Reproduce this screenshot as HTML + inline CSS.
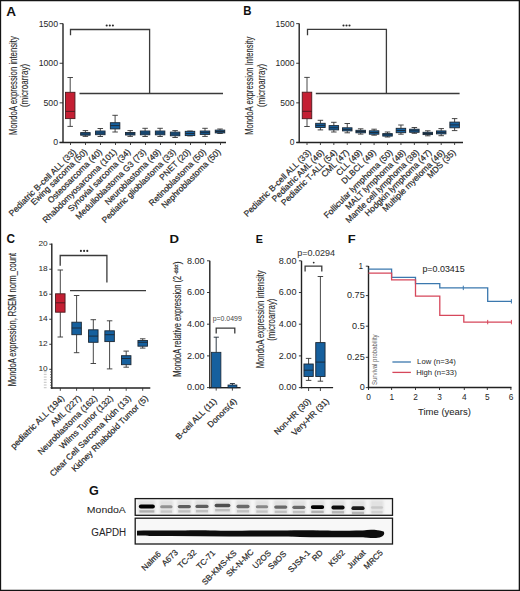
<!DOCTYPE html>
<html><head><meta charset="utf-8"><style>
html,body{margin:0;padding:0;background:#fff;}
svg{display:block;font-family:"Liberation Sans", sans-serif;}
</style></head><body>
<svg width="520" height="591" viewBox="0 0 520 591" font-family='"Liberation Sans", sans-serif'>
<rect x="0" y="0" width="520" height="591" fill="#fff"/>
<text x="6.39" y="16.25" font-size="12.00" text-anchor="start" font-weight="bold" fill="#111" textLength="9.80" lengthAdjust="spacingAndGlyphs">A</text>
<line x1="63.00" y1="23.60" x2="63.00" y2="143.10" stroke="#222" stroke-width="1.4"/>
<line x1="59.60" y1="142.45" x2="226.00" y2="142.45" stroke="#222" stroke-width="1.4"/>
<line x1="59.60" y1="23.65" x2="63.00" y2="23.65" stroke="#222" stroke-width="0.9"/>
<line x1="59.60" y1="63.25" x2="63.00" y2="63.25" stroke="#222" stroke-width="0.9"/>
<line x1="59.60" y1="102.85" x2="63.00" y2="102.85" stroke="#222" stroke-width="0.9"/>
<line x1="59.60" y1="142.45" x2="63.00" y2="142.45" stroke="#222" stroke-width="0.9"/>
<text x="58.08" y="26.61" font-size="8.60" text-anchor="end" font-weight="normal" fill="#262626" textLength="19.42" lengthAdjust="spacingAndGlyphs">1500</text>
<text x="58.08" y="66.21" font-size="8.60" text-anchor="end" font-weight="normal" fill="#262626" textLength="19.42" lengthAdjust="spacingAndGlyphs">1000</text>
<text x="58.08" y="105.81" font-size="8.60" text-anchor="end" font-weight="normal" fill="#262626" textLength="14.56" lengthAdjust="spacingAndGlyphs">500</text>
<text x="58.08" y="145.41" font-size="8.60" text-anchor="end" font-weight="normal" fill="#262626" textLength="4.85" lengthAdjust="spacingAndGlyphs">0</text>
<text x="17.36" y="85.55" font-size="10.30" text-anchor="middle" font-weight="normal" fill="#262626" stroke="#262626" stroke-width="0.1" textLength="98.78" lengthAdjust="spacingAndGlyphs" transform="rotate(-90.0 17.36 85.55)">MondoA expression intensity</text>
<text x="28.46" y="85.45" font-size="10.30" text-anchor="middle" font-weight="normal" fill="#262626" stroke="#262626" stroke-width="0.1" textLength="43.18" lengthAdjust="spacingAndGlyphs" transform="rotate(-90.0 28.46 85.45)">(microarray)</text>
<line x1="70.20" y1="77.50" x2="70.20" y2="92.30" stroke="#333" stroke-width="0.9"/>
<line x1="70.20" y1="118.60" x2="70.20" y2="126.40" stroke="#333" stroke-width="0.9"/>
<line x1="67.45" y1="77.50" x2="72.95" y2="77.50" stroke="#333" stroke-width="0.9"/>
<line x1="67.45" y1="126.40" x2="72.95" y2="126.40" stroke="#333" stroke-width="0.9"/>
<rect x="65.45" y="92.30" width="9.50" height="26.30" fill="#c41f33" stroke="#4a1a1e" stroke-width="0.9"/>
<line x1="65.45" y1="111.40" x2="74.95" y2="111.40" stroke="#4a1a1e" stroke-width="0.9"/>
<line x1="85.40" y1="130.60" x2="85.40" y2="132.60" stroke="#333" stroke-width="0.9"/>
<line x1="85.40" y1="135.20" x2="85.40" y2="136.40" stroke="#333" stroke-width="0.9"/>
<line x1="82.65" y1="130.60" x2="88.15" y2="130.60" stroke="#333" stroke-width="0.9"/>
<line x1="82.65" y1="136.40" x2="88.15" y2="136.40" stroke="#333" stroke-width="0.9"/>
<rect x="80.65" y="132.60" width="9.50" height="2.60" fill="#16609e" stroke="#1b2733" stroke-width="0.9"/>
<line x1="80.65" y1="134.00" x2="90.15" y2="134.00" stroke="#1b2733" stroke-width="0.9"/>
<line x1="100.30" y1="128.50" x2="100.30" y2="131.00" stroke="#333" stroke-width="0.9"/>
<line x1="100.30" y1="134.70" x2="100.30" y2="136.50" stroke="#333" stroke-width="0.9"/>
<line x1="97.55" y1="128.50" x2="103.05" y2="128.50" stroke="#333" stroke-width="0.9"/>
<line x1="97.55" y1="136.50" x2="103.05" y2="136.50" stroke="#333" stroke-width="0.9"/>
<rect x="95.55" y="131.00" width="9.50" height="3.70" fill="#16609e" stroke="#1b2733" stroke-width="0.9"/>
<line x1="95.55" y1="133.00" x2="105.05" y2="133.00" stroke="#1b2733" stroke-width="0.9"/>
<line x1="115.10" y1="115.30" x2="115.10" y2="122.70" stroke="#333" stroke-width="0.9"/>
<line x1="115.10" y1="128.90" x2="115.10" y2="132.00" stroke="#333" stroke-width="0.9"/>
<line x1="112.35" y1="115.30" x2="117.85" y2="115.30" stroke="#333" stroke-width="0.9"/>
<line x1="112.35" y1="132.00" x2="117.85" y2="132.00" stroke="#333" stroke-width="0.9"/>
<rect x="110.35" y="122.70" width="9.50" height="6.20" fill="#16609e" stroke="#1b2733" stroke-width="0.9"/>
<line x1="110.35" y1="125.60" x2="119.85" y2="125.60" stroke="#1b2733" stroke-width="0.9"/>
<line x1="130.20" y1="130.60" x2="130.20" y2="132.50" stroke="#333" stroke-width="0.9"/>
<line x1="130.20" y1="135.00" x2="130.20" y2="136.40" stroke="#333" stroke-width="0.9"/>
<line x1="127.45" y1="130.60" x2="132.95" y2="130.60" stroke="#333" stroke-width="0.9"/>
<line x1="127.45" y1="136.40" x2="132.95" y2="136.40" stroke="#333" stroke-width="0.9"/>
<rect x="125.45" y="132.50" width="9.50" height="2.50" fill="#16609e" stroke="#1b2733" stroke-width="0.9"/>
<line x1="125.45" y1="133.80" x2="134.95" y2="133.80" stroke="#1b2733" stroke-width="0.9"/>
<line x1="145.10" y1="128.30" x2="145.10" y2="131.00" stroke="#333" stroke-width="0.9"/>
<line x1="145.10" y1="134.80" x2="145.10" y2="136.50" stroke="#333" stroke-width="0.9"/>
<line x1="142.35" y1="128.30" x2="147.85" y2="128.30" stroke="#333" stroke-width="0.9"/>
<line x1="142.35" y1="136.50" x2="147.85" y2="136.50" stroke="#333" stroke-width="0.9"/>
<rect x="140.35" y="131.00" width="9.50" height="3.80" fill="#16609e" stroke="#1b2733" stroke-width="0.9"/>
<line x1="140.35" y1="133.00" x2="149.85" y2="133.00" stroke="#1b2733" stroke-width="0.9"/>
<line x1="160.10" y1="128.30" x2="160.10" y2="131.00" stroke="#333" stroke-width="0.9"/>
<line x1="160.10" y1="134.80" x2="160.10" y2="136.50" stroke="#333" stroke-width="0.9"/>
<line x1="157.35" y1="128.30" x2="162.85" y2="128.30" stroke="#333" stroke-width="0.9"/>
<line x1="157.35" y1="136.50" x2="162.85" y2="136.50" stroke="#333" stroke-width="0.9"/>
<rect x="155.35" y="131.00" width="9.50" height="3.80" fill="#16609e" stroke="#1b2733" stroke-width="0.9"/>
<line x1="155.35" y1="133.00" x2="164.85" y2="133.00" stroke="#1b2733" stroke-width="0.9"/>
<line x1="175.10" y1="130.60" x2="175.10" y2="132.10" stroke="#333" stroke-width="0.9"/>
<line x1="175.10" y1="135.80" x2="175.10" y2="137.50" stroke="#333" stroke-width="0.9"/>
<line x1="172.35" y1="130.60" x2="177.85" y2="130.60" stroke="#333" stroke-width="0.9"/>
<line x1="172.35" y1="137.50" x2="177.85" y2="137.50" stroke="#333" stroke-width="0.9"/>
<rect x="170.35" y="132.10" width="9.50" height="3.70" fill="#16609e" stroke="#1b2733" stroke-width="0.9"/>
<line x1="170.35" y1="134.00" x2="179.85" y2="134.00" stroke="#1b2733" stroke-width="0.9"/>
<line x1="190.00" y1="131.00" x2="190.00" y2="131.30" stroke="#333" stroke-width="0.9"/>
<line x1="190.00" y1="135.60" x2="190.00" y2="135.90" stroke="#333" stroke-width="0.9"/>
<line x1="187.25" y1="131.00" x2="192.75" y2="131.00" stroke="#333" stroke-width="0.9"/>
<line x1="187.25" y1="135.90" x2="192.75" y2="135.90" stroke="#333" stroke-width="0.9"/>
<rect x="185.25" y="131.30" width="9.50" height="4.30" fill="#16609e" stroke="#1b2733" stroke-width="0.9"/>
<line x1="185.25" y1="133.50" x2="194.75" y2="133.50" stroke="#1b2733" stroke-width="0.9"/>
<line x1="205.00" y1="128.30" x2="205.00" y2="131.00" stroke="#333" stroke-width="0.9"/>
<line x1="205.00" y1="134.40" x2="205.00" y2="136.40" stroke="#333" stroke-width="0.9"/>
<line x1="202.25" y1="128.30" x2="207.75" y2="128.30" stroke="#333" stroke-width="0.9"/>
<line x1="202.25" y1="136.40" x2="207.75" y2="136.40" stroke="#333" stroke-width="0.9"/>
<rect x="200.25" y="131.00" width="9.50" height="3.40" fill="#16609e" stroke="#1b2733" stroke-width="0.9"/>
<line x1="200.25" y1="132.70" x2="209.75" y2="132.70" stroke="#1b2733" stroke-width="0.9"/>
<line x1="220.00" y1="129.00" x2="220.00" y2="130.10" stroke="#333" stroke-width="0.9"/>
<line x1="220.00" y1="132.90" x2="220.00" y2="133.50" stroke="#333" stroke-width="0.9"/>
<line x1="217.25" y1="129.00" x2="222.75" y2="129.00" stroke="#333" stroke-width="0.9"/>
<line x1="217.25" y1="133.50" x2="222.75" y2="133.50" stroke="#333" stroke-width="0.9"/>
<rect x="215.25" y="130.10" width="9.50" height="2.80" fill="#16609e" stroke="#1b2733" stroke-width="0.9"/>
<line x1="215.25" y1="131.50" x2="224.75" y2="131.50" stroke="#1b2733" stroke-width="0.9"/>
<line x1="70.50" y1="142.45" x2="70.50" y2="145.00" stroke="#333" stroke-width="0.9"/>
<line x1="85.50" y1="142.45" x2="85.50" y2="145.00" stroke="#333" stroke-width="0.9"/>
<line x1="100.50" y1="142.45" x2="100.50" y2="145.00" stroke="#333" stroke-width="0.9"/>
<line x1="115.50" y1="142.45" x2="115.50" y2="145.00" stroke="#333" stroke-width="0.9"/>
<line x1="130.50" y1="142.45" x2="130.50" y2="145.00" stroke="#333" stroke-width="0.9"/>
<line x1="145.50" y1="142.45" x2="145.50" y2="145.00" stroke="#333" stroke-width="0.9"/>
<line x1="160.50" y1="142.45" x2="160.50" y2="145.00" stroke="#333" stroke-width="0.9"/>
<line x1="175.50" y1="142.45" x2="175.50" y2="145.00" stroke="#333" stroke-width="0.9"/>
<line x1="190.50" y1="142.45" x2="190.50" y2="145.00" stroke="#333" stroke-width="0.9"/>
<line x1="205.50" y1="142.45" x2="205.50" y2="145.00" stroke="#333" stroke-width="0.9"/>
<line x1="220.50" y1="142.45" x2="220.50" y2="145.00" stroke="#333" stroke-width="0.9"/>
<path d="M70.5,35.2 V29.5 H149.6 V93.5" stroke="#3a3a3a" stroke-width="1.3" fill="none"/>
<line x1="79.50" y1="93.50" x2="223.00" y2="93.50" stroke="#3a3a3a" stroke-width="1.3"/>
<circle cx="106.7" cy="25.5" r="1.05" fill="#2a2a2a"/>
<circle cx="109.8" cy="25.5" r="1.05" fill="#2a2a2a"/>
<circle cx="112.9" cy="25.5" r="1.05" fill="#2a2a2a"/>
<text x="76.50" y="152.40" font-size="8.50" text-anchor="end" font-weight="normal" fill="#262626" stroke="#262626" stroke-width="0.2" transform="rotate(-45 76.50 152.40)">Pediatric B-cell ALL (33)</text>
<text x="87.80" y="152.40" font-size="8.50" text-anchor="end" font-weight="normal" fill="#262626" stroke="#262626" stroke-width="0.2" transform="rotate(-45 87.80 152.40)">Ewing sarcoma (50)</text>
<text x="102.50" y="152.40" font-size="8.50" text-anchor="end" font-weight="normal" fill="#262626" stroke="#262626" stroke-width="0.2" transform="rotate(-45 102.50 152.40)">Osteosarcoma (40)</text>
<text x="117.20" y="152.40" font-size="8.50" text-anchor="end" font-weight="normal" fill="#262626" stroke="#262626" stroke-width="0.2" transform="rotate(-45 117.20 152.40)">Rhabdomyosarcoma (101)</text>
<text x="131.10" y="152.40" font-size="8.50" text-anchor="end" font-weight="normal" fill="#262626" stroke="#262626" stroke-width="0.2" transform="rotate(-45 131.10 152.40)">Synovial sarcoma (34)</text>
<text x="146.60" y="152.40" font-size="8.50" text-anchor="end" font-weight="normal" fill="#262626" stroke="#262626" stroke-width="0.2" transform="rotate(-45 146.60 152.40)">Medulloblastoma G3 (73)</text>
<text x="161.30" y="152.40" font-size="8.50" text-anchor="end" font-weight="normal" fill="#262626" stroke="#262626" stroke-width="0.2" transform="rotate(-45 161.30 152.40)">Neuroblastoma (49)</text>
<text x="176.30" y="152.40" font-size="8.50" text-anchor="end" font-weight="normal" fill="#262626" stroke="#262626" stroke-width="0.2" transform="rotate(-45 176.30 152.40)">Pediatric glioblastoma (33)</text>
<text x="191.00" y="152.40" font-size="8.50" text-anchor="end" font-weight="normal" fill="#262626" stroke="#262626" stroke-width="0.2" transform="rotate(-45 191.00 152.40)">PNET (20)</text>
<text x="206.50" y="152.40" font-size="8.50" text-anchor="end" font-weight="normal" fill="#262626" stroke="#262626" stroke-width="0.2" transform="rotate(-45 206.50 152.40)">Retinoblastoma (50)</text>
<text x="221.20" y="152.40" font-size="8.50" text-anchor="end" font-weight="normal" fill="#262626" stroke="#262626" stroke-width="0.2" transform="rotate(-45 221.20 152.40)">Nephroblastoma (50)</text>
<text x="243.37" y="15.35" font-size="12.00" text-anchor="start" font-weight="bold" fill="#111" textLength="8.23" lengthAdjust="spacingAndGlyphs">B</text>
<line x1="299.20" y1="23.60" x2="299.20" y2="143.10" stroke="#222" stroke-width="1.4"/>
<line x1="296.40" y1="142.45" x2="463.00" y2="142.45" stroke="#222" stroke-width="1.4"/>
<line x1="296.20" y1="23.65" x2="299.20" y2="23.65" stroke="#222" stroke-width="0.9"/>
<line x1="296.20" y1="63.25" x2="299.20" y2="63.25" stroke="#222" stroke-width="0.9"/>
<line x1="296.20" y1="102.85" x2="299.20" y2="102.85" stroke="#222" stroke-width="0.9"/>
<line x1="296.20" y1="142.45" x2="299.20" y2="142.45" stroke="#222" stroke-width="0.9"/>
<text x="294.54" y="26.61" font-size="8.60" text-anchor="end" font-weight="normal" fill="#262626" textLength="19.04" lengthAdjust="spacingAndGlyphs">1500</text>
<text x="294.54" y="66.21" font-size="8.60" text-anchor="end" font-weight="normal" fill="#262626" textLength="19.04" lengthAdjust="spacingAndGlyphs">1000</text>
<text x="294.54" y="105.81" font-size="8.60" text-anchor="end" font-weight="normal" fill="#262626" textLength="14.28" lengthAdjust="spacingAndGlyphs">500</text>
<text x="294.54" y="145.41" font-size="8.60" text-anchor="end" font-weight="normal" fill="#262626" textLength="4.76" lengthAdjust="spacingAndGlyphs">0</text>
<text x="253.49" y="85.76" font-size="10.30" text-anchor="middle" font-weight="normal" fill="#262626" stroke="#262626" stroke-width="0.1" textLength="98.21" lengthAdjust="spacingAndGlyphs" transform="rotate(-90.0 253.49 85.76)">MondoA expression Intensity</text>
<text x="265.06" y="85.45" font-size="10.30" text-anchor="middle" font-weight="normal" fill="#262626" stroke="#262626" stroke-width="0.1" textLength="43.18" lengthAdjust="spacingAndGlyphs" transform="rotate(-90.0 265.06 85.45)">(microarray)</text>
<line x1="307.00" y1="77.40" x2="307.00" y2="92.20" stroke="#333" stroke-width="0.9"/>
<line x1="307.00" y1="118.70" x2="307.00" y2="126.50" stroke="#333" stroke-width="0.9"/>
<line x1="304.25" y1="77.40" x2="309.75" y2="77.40" stroke="#333" stroke-width="0.9"/>
<line x1="304.25" y1="126.50" x2="309.75" y2="126.50" stroke="#333" stroke-width="0.9"/>
<rect x="302.25" y="92.20" width="9.50" height="26.50" fill="#c41f33" stroke="#4a1a1e" stroke-width="0.9"/>
<line x1="302.25" y1="111.30" x2="311.75" y2="111.30" stroke="#4a1a1e" stroke-width="0.9"/>
<line x1="307.00" y1="142.45" x2="307.00" y2="145.00" stroke="#333" stroke-width="0.9"/>
<line x1="320.42" y1="120.30" x2="320.42" y2="123.30" stroke="#333" stroke-width="0.9"/>
<line x1="320.42" y1="127.50" x2="320.42" y2="129.90" stroke="#333" stroke-width="0.9"/>
<line x1="317.67" y1="120.30" x2="323.17" y2="120.30" stroke="#333" stroke-width="0.9"/>
<line x1="317.67" y1="129.90" x2="323.17" y2="129.90" stroke="#333" stroke-width="0.9"/>
<rect x="315.67" y="123.30" width="9.50" height="4.20" fill="#16609e" stroke="#1b2733" stroke-width="0.9"/>
<line x1="315.67" y1="125.40" x2="325.17" y2="125.40" stroke="#1b2733" stroke-width="0.9"/>
<line x1="320.42" y1="142.45" x2="320.42" y2="145.00" stroke="#333" stroke-width="0.9"/>
<line x1="333.84" y1="122.30" x2="333.84" y2="125.60" stroke="#333" stroke-width="0.9"/>
<line x1="333.84" y1="129.90" x2="333.84" y2="132.00" stroke="#333" stroke-width="0.9"/>
<line x1="331.09" y1="122.30" x2="336.59" y2="122.30" stroke="#333" stroke-width="0.9"/>
<line x1="331.09" y1="132.00" x2="336.59" y2="132.00" stroke="#333" stroke-width="0.9"/>
<rect x="329.09" y="125.60" width="9.50" height="4.30" fill="#16609e" stroke="#1b2733" stroke-width="0.9"/>
<line x1="329.09" y1="127.80" x2="338.59" y2="127.80" stroke="#1b2733" stroke-width="0.9"/>
<line x1="333.84" y1="142.45" x2="333.84" y2="145.00" stroke="#333" stroke-width="0.9"/>
<line x1="347.26" y1="123.50" x2="347.26" y2="127.80" stroke="#333" stroke-width="0.9"/>
<line x1="347.26" y1="130.90" x2="347.26" y2="132.80" stroke="#333" stroke-width="0.9"/>
<line x1="344.51" y1="123.50" x2="350.01" y2="123.50" stroke="#333" stroke-width="0.9"/>
<line x1="344.51" y1="132.80" x2="350.01" y2="132.80" stroke="#333" stroke-width="0.9"/>
<rect x="342.51" y="127.80" width="9.50" height="3.10" fill="#16609e" stroke="#1b2733" stroke-width="0.9"/>
<line x1="342.51" y1="129.40" x2="352.01" y2="129.40" stroke="#1b2733" stroke-width="0.9"/>
<line x1="347.26" y1="142.45" x2="347.26" y2="145.00" stroke="#333" stroke-width="0.9"/>
<line x1="360.68" y1="128.80" x2="360.68" y2="130.30" stroke="#333" stroke-width="0.9"/>
<line x1="360.68" y1="132.80" x2="360.68" y2="134.10" stroke="#333" stroke-width="0.9"/>
<line x1="357.93" y1="128.80" x2="363.43" y2="128.80" stroke="#333" stroke-width="0.9"/>
<line x1="357.93" y1="134.10" x2="363.43" y2="134.10" stroke="#333" stroke-width="0.9"/>
<rect x="355.93" y="130.30" width="9.50" height="2.50" fill="#16609e" stroke="#1b2733" stroke-width="0.9"/>
<line x1="355.93" y1="131.50" x2="365.43" y2="131.50" stroke="#1b2733" stroke-width="0.9"/>
<line x1="360.68" y1="142.45" x2="360.68" y2="145.00" stroke="#333" stroke-width="0.9"/>
<line x1="374.10" y1="129.20" x2="374.10" y2="130.80" stroke="#333" stroke-width="0.9"/>
<line x1="374.10" y1="134.20" x2="374.10" y2="135.20" stroke="#333" stroke-width="0.9"/>
<line x1="371.35" y1="129.20" x2="376.85" y2="129.20" stroke="#333" stroke-width="0.9"/>
<line x1="371.35" y1="135.20" x2="376.85" y2="135.20" stroke="#333" stroke-width="0.9"/>
<rect x="369.35" y="130.80" width="9.50" height="3.40" fill="#16609e" stroke="#1b2733" stroke-width="0.9"/>
<line x1="369.35" y1="132.50" x2="378.85" y2="132.50" stroke="#1b2733" stroke-width="0.9"/>
<line x1="374.10" y1="142.45" x2="374.10" y2="145.00" stroke="#333" stroke-width="0.9"/>
<line x1="387.52" y1="132.00" x2="387.52" y2="133.60" stroke="#333" stroke-width="0.9"/>
<line x1="387.52" y1="136.10" x2="387.52" y2="137.00" stroke="#333" stroke-width="0.9"/>
<line x1="384.77" y1="132.00" x2="390.27" y2="132.00" stroke="#333" stroke-width="0.9"/>
<line x1="384.77" y1="137.00" x2="390.27" y2="137.00" stroke="#333" stroke-width="0.9"/>
<rect x="382.77" y="133.60" width="9.50" height="2.50" fill="#16609e" stroke="#1b2733" stroke-width="0.9"/>
<line x1="382.77" y1="134.80" x2="392.27" y2="134.80" stroke="#1b2733" stroke-width="0.9"/>
<line x1="387.52" y1="142.45" x2="387.52" y2="145.00" stroke="#333" stroke-width="0.9"/>
<line x1="400.94" y1="125.00" x2="400.94" y2="128.30" stroke="#333" stroke-width="0.9"/>
<line x1="400.94" y1="132.70" x2="400.94" y2="134.20" stroke="#333" stroke-width="0.9"/>
<line x1="398.19" y1="125.00" x2="403.69" y2="125.00" stroke="#333" stroke-width="0.9"/>
<line x1="398.19" y1="134.20" x2="403.69" y2="134.20" stroke="#333" stroke-width="0.9"/>
<rect x="396.19" y="128.30" width="9.50" height="4.40" fill="#16609e" stroke="#1b2733" stroke-width="0.9"/>
<line x1="396.19" y1="130.50" x2="405.69" y2="130.50" stroke="#1b2733" stroke-width="0.9"/>
<line x1="400.94" y1="142.45" x2="400.94" y2="145.00" stroke="#333" stroke-width="0.9"/>
<line x1="414.36" y1="127.50" x2="414.36" y2="129.20" stroke="#333" stroke-width="0.9"/>
<line x1="414.36" y1="132.30" x2="414.36" y2="133.30" stroke="#333" stroke-width="0.9"/>
<line x1="411.61" y1="127.50" x2="417.11" y2="127.50" stroke="#333" stroke-width="0.9"/>
<line x1="411.61" y1="133.30" x2="417.11" y2="133.30" stroke="#333" stroke-width="0.9"/>
<rect x="409.61" y="129.20" width="9.50" height="3.10" fill="#16609e" stroke="#1b2733" stroke-width="0.9"/>
<line x1="409.61" y1="130.80" x2="419.11" y2="130.80" stroke="#1b2733" stroke-width="0.9"/>
<line x1="414.36" y1="142.45" x2="414.36" y2="145.00" stroke="#333" stroke-width="0.9"/>
<line x1="427.78" y1="130.80" x2="427.78" y2="132.30" stroke="#333" stroke-width="0.9"/>
<line x1="427.78" y1="134.60" x2="427.78" y2="135.80" stroke="#333" stroke-width="0.9"/>
<line x1="425.03" y1="130.80" x2="430.53" y2="130.80" stroke="#333" stroke-width="0.9"/>
<line x1="425.03" y1="135.80" x2="430.53" y2="135.80" stroke="#333" stroke-width="0.9"/>
<rect x="423.03" y="132.30" width="9.50" height="2.30" fill="#16609e" stroke="#1b2733" stroke-width="0.9"/>
<line x1="423.03" y1="133.50" x2="432.53" y2="133.50" stroke="#1b2733" stroke-width="0.9"/>
<line x1="427.78" y1="142.45" x2="427.78" y2="145.00" stroke="#333" stroke-width="0.9"/>
<line x1="441.20" y1="128.60" x2="441.20" y2="130.90" stroke="#333" stroke-width="0.9"/>
<line x1="441.20" y1="133.90" x2="441.20" y2="135.70" stroke="#333" stroke-width="0.9"/>
<line x1="438.45" y1="128.60" x2="443.95" y2="128.60" stroke="#333" stroke-width="0.9"/>
<line x1="438.45" y1="135.70" x2="443.95" y2="135.70" stroke="#333" stroke-width="0.9"/>
<rect x="436.45" y="130.90" width="9.50" height="3.00" fill="#16609e" stroke="#1b2733" stroke-width="0.9"/>
<line x1="436.45" y1="132.40" x2="445.95" y2="132.40" stroke="#1b2733" stroke-width="0.9"/>
<line x1="441.20" y1="142.45" x2="441.20" y2="145.00" stroke="#333" stroke-width="0.9"/>
<line x1="454.62" y1="118.60" x2="454.62" y2="122.10" stroke="#333" stroke-width="0.9"/>
<line x1="454.62" y1="127.80" x2="454.62" y2="130.60" stroke="#333" stroke-width="0.9"/>
<line x1="451.87" y1="118.60" x2="457.37" y2="118.60" stroke="#333" stroke-width="0.9"/>
<line x1="451.87" y1="130.60" x2="457.37" y2="130.60" stroke="#333" stroke-width="0.9"/>
<rect x="449.87" y="122.10" width="9.50" height="5.70" fill="#16609e" stroke="#1b2733" stroke-width="0.9"/>
<line x1="449.87" y1="124.90" x2="459.37" y2="124.90" stroke="#1b2733" stroke-width="0.9"/>
<line x1="454.62" y1="142.45" x2="454.62" y2="145.00" stroke="#333" stroke-width="0.9"/>
<path d="M307.5,35.2 V29.4 H386.4 V93.5" stroke="#3a3a3a" stroke-width="1.3" fill="none"/>
<line x1="315.80" y1="93.50" x2="459.60" y2="93.50" stroke="#3a3a3a" stroke-width="1.3"/>
<circle cx="343.5" cy="25.5" r="1.05" fill="#2a2a2a"/>
<circle cx="346.5" cy="25.5" r="1.05" fill="#2a2a2a"/>
<circle cx="349.5" cy="25.5" r="1.05" fill="#2a2a2a"/>
<text x="311.50" y="153.00" font-size="8.50" text-anchor="end" font-weight="normal" fill="#262626" stroke="#262626" stroke-width="0.2" transform="rotate(-45 311.50 153.00)">Pediatric B-cell ALL (33)</text>
<text x="324.50" y="153.00" font-size="8.50" text-anchor="end" font-weight="normal" fill="#262626" stroke="#262626" stroke-width="0.2" transform="rotate(-45 324.50 153.00)">Pediatric AML (46)</text>
<text x="337.50" y="153.00" font-size="8.50" text-anchor="end" font-weight="normal" fill="#262626" stroke="#262626" stroke-width="0.2" transform="rotate(-45 337.50 153.00)">Pediatric T-ALL (54)</text>
<text x="349.60" y="153.00" font-size="8.50" text-anchor="end" font-weight="normal" fill="#262626" stroke="#262626" stroke-width="0.2" transform="rotate(-45 349.60 153.00)">CML (47)</text>
<text x="362.60" y="153.00" font-size="8.50" text-anchor="end" font-weight="normal" fill="#262626" stroke="#262626" stroke-width="0.2" transform="rotate(-45 362.60 153.00)">CLL (49)</text>
<text x="376.40" y="153.00" font-size="8.50" text-anchor="end" font-weight="normal" fill="#262626" stroke="#262626" stroke-width="0.2" transform="rotate(-45 376.40 153.00)">DLBCL (49)</text>
<text x="393.10" y="153.00" font-size="8.50" text-anchor="end" font-weight="normal" fill="#262626" stroke="#262626" stroke-width="0.2" transform="rotate(-45 393.10 153.00)">Follicular lymphoma (50)</text>
<text x="406.10" y="153.00" font-size="8.50" text-anchor="end" font-weight="normal" fill="#262626" stroke="#262626" stroke-width="0.2" transform="rotate(-45 406.10 153.00)">MALT lymphoma (48)</text>
<text x="419.50" y="153.00" font-size="8.50" text-anchor="end" font-weight="normal" fill="#262626" stroke="#262626" stroke-width="0.2" transform="rotate(-45 419.50 153.00)">Mantle cell lymphoma (38)</text>
<text x="432.00" y="153.00" font-size="8.50" text-anchor="end" font-weight="normal" fill="#262626" stroke="#262626" stroke-width="0.2" transform="rotate(-45 432.00 153.00)">Hodgkin lymphoma (47)</text>
<text x="445.00" y="153.00" font-size="8.50" text-anchor="end" font-weight="normal" fill="#262626" stroke="#262626" stroke-width="0.2" transform="rotate(-45 445.00 153.00)">Multiple myeloma (46)</text>
<text x="456.20" y="153.00" font-size="8.50" text-anchor="end" font-weight="normal" fill="#262626" stroke="#262626" stroke-width="0.2" transform="rotate(-45 456.20 153.00)">MDS (35)</text>
<text x="6.62" y="243.30" font-size="12.00" text-anchor="start" font-weight="bold" fill="#111" textLength="8.54" lengthAdjust="spacingAndGlyphs">C</text>
<line x1="51.80" y1="243.60" x2="51.80" y2="388.70" stroke="#222" stroke-width="1.4"/>
<line x1="51.10" y1="388.00" x2="150.30" y2="388.00" stroke="#222" stroke-width="1.4"/>
<line x1="49.30" y1="244.20" x2="51.80" y2="244.20" stroke="#222" stroke-width="0.9"/>
<line x1="49.30" y1="269.22" x2="51.80" y2="269.22" stroke="#222" stroke-width="0.9"/>
<line x1="49.30" y1="294.24" x2="51.80" y2="294.24" stroke="#222" stroke-width="0.9"/>
<line x1="49.30" y1="319.26" x2="51.80" y2="319.26" stroke="#222" stroke-width="0.9"/>
<line x1="49.30" y1="344.28" x2="51.80" y2="344.28" stroke="#222" stroke-width="0.9"/>
<line x1="49.30" y1="369.30" x2="51.80" y2="369.30" stroke="#222" stroke-width="0.9"/>
<text x="47.68" y="246.28" font-size="7.80" text-anchor="end" font-weight="normal" fill="#262626" textLength="9.26" lengthAdjust="spacingAndGlyphs">20</text>
<text x="47.68" y="271.30" font-size="7.80" text-anchor="end" font-weight="normal" fill="#262626" textLength="9.26" lengthAdjust="spacingAndGlyphs">18</text>
<text x="47.68" y="296.32" font-size="7.80" text-anchor="end" font-weight="normal" fill="#262626" textLength="9.26" lengthAdjust="spacingAndGlyphs">16</text>
<text x="47.68" y="321.34" font-size="7.80" text-anchor="end" font-weight="normal" fill="#262626" textLength="9.26" lengthAdjust="spacingAndGlyphs">14</text>
<text x="47.68" y="346.36" font-size="7.80" text-anchor="end" font-weight="normal" fill="#262626" textLength="9.26" lengthAdjust="spacingAndGlyphs">12</text>
<text x="47.68" y="371.38" font-size="7.80" text-anchor="end" font-weight="normal" fill="#262626" textLength="9.26" lengthAdjust="spacingAndGlyphs">10</text>
<line x1="50.00" y1="371.95" x2="51.80" y2="371.95" stroke="#444" stroke-width="0.7"/>
<rect x="43.8" y="371.15" width="2.8" height="1.2" fill="#ccc"/>
<line x1="50.00" y1="374.60" x2="51.80" y2="374.60" stroke="#444" stroke-width="0.7"/>
<rect x="43.8" y="373.80" width="2.8" height="1.2" fill="#ccc"/>
<line x1="50.00" y1="377.25" x2="51.80" y2="377.25" stroke="#444" stroke-width="0.7"/>
<rect x="43.8" y="376.45" width="2.8" height="1.2" fill="#ccc"/>
<line x1="50.00" y1="379.90" x2="51.80" y2="379.90" stroke="#444" stroke-width="0.7"/>
<rect x="43.8" y="379.10" width="2.8" height="1.2" fill="#ccc"/>
<line x1="50.00" y1="382.55" x2="51.80" y2="382.55" stroke="#444" stroke-width="0.7"/>
<rect x="43.8" y="381.75" width="2.8" height="1.2" fill="#ccc"/>
<line x1="50.00" y1="385.20" x2="51.80" y2="385.20" stroke="#444" stroke-width="0.7"/>
<rect x="43.8" y="384.40" width="2.8" height="1.2" fill="#ccc"/>
<line x1="50.00" y1="387.85" x2="51.80" y2="387.85" stroke="#444" stroke-width="0.7"/>
<rect x="43.8" y="387.05" width="2.8" height="1.2" fill="#ccc"/>
<text x="15.76" y="319.55" font-size="10.00" text-anchor="middle" font-weight="normal" fill="#262626" stroke="#262626" stroke-width="0.1" textLength="133.48" lengthAdjust="spacingAndGlyphs" transform="rotate(-90.0 15.76 319.55)">MondoA expression, RSEM norm_count</text>
<line x1="60.30" y1="270.00" x2="60.30" y2="293.80" stroke="#333" stroke-width="0.9"/>
<line x1="60.30" y1="312.20" x2="60.30" y2="337.00" stroke="#333" stroke-width="0.9"/>
<line x1="57.55" y1="270.00" x2="63.05" y2="270.00" stroke="#333" stroke-width="0.9"/>
<line x1="57.55" y1="337.00" x2="63.05" y2="337.00" stroke="#333" stroke-width="0.9"/>
<rect x="55.55" y="293.80" width="9.50" height="18.40" fill="#c41f33" stroke="#4a1a1e" stroke-width="0.9"/>
<line x1="55.55" y1="302.80" x2="65.05" y2="302.80" stroke="#4a1a1e" stroke-width="0.9"/>
<line x1="60.30" y1="387.90" x2="60.30" y2="390.80" stroke="#333" stroke-width="0.9"/>
<line x1="76.60" y1="295.50" x2="76.60" y2="322.20" stroke="#333" stroke-width="0.9"/>
<line x1="76.60" y1="334.70" x2="76.60" y2="352.70" stroke="#333" stroke-width="0.9"/>
<line x1="73.85" y1="295.50" x2="79.35" y2="295.50" stroke="#333" stroke-width="0.9"/>
<line x1="73.85" y1="352.70" x2="79.35" y2="352.70" stroke="#333" stroke-width="0.9"/>
<rect x="71.85" y="322.20" width="9.50" height="12.50" fill="#16609e" stroke="#1b2733" stroke-width="0.9"/>
<line x1="71.85" y1="328.00" x2="81.35" y2="328.00" stroke="#1b2733" stroke-width="0.9"/>
<line x1="76.60" y1="387.90" x2="76.60" y2="390.80" stroke="#333" stroke-width="0.9"/>
<line x1="93.30" y1="319.70" x2="93.30" y2="329.80" stroke="#333" stroke-width="0.9"/>
<line x1="93.30" y1="342.30" x2="93.30" y2="363.50" stroke="#333" stroke-width="0.9"/>
<line x1="90.55" y1="319.70" x2="96.05" y2="319.70" stroke="#333" stroke-width="0.9"/>
<line x1="90.55" y1="363.50" x2="96.05" y2="363.50" stroke="#333" stroke-width="0.9"/>
<rect x="88.55" y="329.80" width="9.50" height="12.50" fill="#16609e" stroke="#1b2733" stroke-width="0.9"/>
<line x1="88.55" y1="336.10" x2="98.05" y2="336.10" stroke="#1b2733" stroke-width="0.9"/>
<line x1="93.30" y1="387.90" x2="93.30" y2="390.80" stroke="#333" stroke-width="0.9"/>
<line x1="109.60" y1="320.80" x2="109.60" y2="330.80" stroke="#333" stroke-width="0.9"/>
<line x1="109.60" y1="341.60" x2="109.60" y2="368.90" stroke="#333" stroke-width="0.9"/>
<line x1="106.85" y1="320.80" x2="112.35" y2="320.80" stroke="#333" stroke-width="0.9"/>
<line x1="106.85" y1="368.90" x2="112.35" y2="368.90" stroke="#333" stroke-width="0.9"/>
<rect x="104.85" y="330.80" width="9.50" height="10.80" fill="#16609e" stroke="#1b2733" stroke-width="0.9"/>
<line x1="104.85" y1="334.70" x2="114.35" y2="334.70" stroke="#1b2733" stroke-width="0.9"/>
<line x1="109.60" y1="387.90" x2="109.60" y2="390.80" stroke="#333" stroke-width="0.9"/>
<line x1="126.20" y1="351.10" x2="126.20" y2="355.70" stroke="#333" stroke-width="0.9"/>
<line x1="126.20" y1="364.70" x2="126.20" y2="367.20" stroke="#333" stroke-width="0.9"/>
<line x1="123.45" y1="351.10" x2="128.95" y2="351.10" stroke="#333" stroke-width="0.9"/>
<line x1="123.45" y1="367.20" x2="128.95" y2="367.20" stroke="#333" stroke-width="0.9"/>
<rect x="121.45" y="355.70" width="9.50" height="9.00" fill="#16609e" stroke="#1b2733" stroke-width="0.9"/>
<line x1="121.45" y1="358.50" x2="130.95" y2="358.50" stroke="#1b2733" stroke-width="0.9"/>
<line x1="126.20" y1="387.90" x2="126.20" y2="390.80" stroke="#333" stroke-width="0.9"/>
<line x1="142.70" y1="338.80" x2="142.70" y2="340.50" stroke="#333" stroke-width="0.9"/>
<line x1="142.70" y1="346.20" x2="142.70" y2="348.10" stroke="#333" stroke-width="0.9"/>
<line x1="139.95" y1="338.80" x2="145.45" y2="338.80" stroke="#333" stroke-width="0.9"/>
<line x1="139.95" y1="348.10" x2="145.45" y2="348.10" stroke="#333" stroke-width="0.9"/>
<rect x="137.95" y="340.50" width="9.50" height="5.70" fill="#16609e" stroke="#1b2733" stroke-width="0.9"/>
<line x1="137.95" y1="342.30" x2="147.45" y2="342.30" stroke="#1b2733" stroke-width="0.9"/>
<line x1="142.70" y1="387.90" x2="142.70" y2="390.80" stroke="#333" stroke-width="0.9"/>
<path d="M60.2,265.8 V255.5 H106.9 V282.5" stroke="#3a3a3a" stroke-width="1.3" fill="none"/>
<line x1="70.00" y1="290.60" x2="146.00" y2="290.60" stroke="#3a3a3a" stroke-width="1.3"/>
<circle cx="80.9" cy="250.9" r="1.05" fill="#2a2a2a"/>
<circle cx="84.1" cy="250.9" r="1.05" fill="#2a2a2a"/>
<circle cx="87.3" cy="250.9" r="1.05" fill="#2a2a2a"/>
<text x="64.90" y="398.80" font-size="8.60" text-anchor="end" font-weight="normal" fill="#262626" stroke="#262626" stroke-width="0.2" transform="rotate(-45 64.90 398.80)">pediatric ALL (194)</text>
<text x="81.80" y="398.80" font-size="8.50" text-anchor="end" font-weight="normal" fill="#262626" stroke="#262626" stroke-width="0.2" transform="rotate(-45 81.80 398.80)">AML (227)</text>
<text x="97.70" y="398.80" font-size="8.50" text-anchor="end" font-weight="normal" fill="#262626" stroke="#262626" stroke-width="0.2" transform="rotate(-45 97.70 398.80)">Neuroblastoma (162)</text>
<text x="113.60" y="398.80" font-size="8.50" text-anchor="end" font-weight="normal" fill="#262626" stroke="#262626" stroke-width="0.2" transform="rotate(-45 113.60 398.80)">Wilms Tumor (132)</text>
<text x="131.50" y="398.80" font-size="8.50" text-anchor="end" font-weight="normal" fill="#262626" stroke="#262626" stroke-width="0.2" transform="rotate(-45 131.50 398.80)">Clear Cell Sarcoma Kidn (13)</text>
<text x="148.50" y="398.80" font-size="8.50" text-anchor="end" font-weight="normal" fill="#262626" stroke="#262626" stroke-width="0.2" transform="rotate(-45 148.50 398.80)">Kidney Rhabdoid Tumor (5)</text>
<text x="169.59" y="242.70" font-size="11.50" text-anchor="start" font-weight="bold" fill="#111" textLength="9.52" lengthAdjust="spacingAndGlyphs">D</text>
<line x1="209.80" y1="260.80" x2="209.80" y2="388.30" stroke="#222" stroke-width="1.4"/>
<line x1="209.10" y1="387.70" x2="240.60" y2="387.70" stroke="#222" stroke-width="1.4"/>
<line x1="207.00" y1="260.80" x2="209.80" y2="260.80" stroke="#222" stroke-width="0.9"/>
<line x1="207.00" y1="292.50" x2="209.80" y2="292.50" stroke="#222" stroke-width="0.9"/>
<line x1="207.00" y1="324.20" x2="209.80" y2="324.20" stroke="#222" stroke-width="0.9"/>
<line x1="207.00" y1="355.90" x2="209.80" y2="355.90" stroke="#222" stroke-width="0.9"/>
<line x1="207.00" y1="387.60" x2="209.80" y2="387.60" stroke="#222" stroke-width="0.9"/>
<text x="204.58" y="263.62" font-size="8.20" text-anchor="end" font-weight="normal" fill="#262626" textLength="17.67" lengthAdjust="spacingAndGlyphs">8.00</text>
<text x="204.58" y="295.32" font-size="8.20" text-anchor="end" font-weight="normal" fill="#262626" textLength="17.67" lengthAdjust="spacingAndGlyphs">6.00</text>
<text x="204.58" y="327.02" font-size="8.20" text-anchor="end" font-weight="normal" fill="#262626" textLength="17.67" lengthAdjust="spacingAndGlyphs">4.00</text>
<text x="204.58" y="358.72" font-size="8.20" text-anchor="end" font-weight="normal" fill="#262626" textLength="17.67" lengthAdjust="spacingAndGlyphs">2.00</text>
<text x="204.58" y="390.42" font-size="8.20" text-anchor="end" font-weight="normal" fill="#262626" textLength="17.67" lengthAdjust="spacingAndGlyphs">0.00</text>
<rect x="211.40" y="352.30" width="9.50" height="35.40" fill="#16609e" stroke="#1b2733" stroke-width="0.8"/>
<line x1="216.20" y1="352.30" x2="216.20" y2="337.20" stroke="#1b2733" stroke-width="0.9"/>
<line x1="213.70" y1="337.20" x2="218.90" y2="337.20" stroke="#1b2733" stroke-width="0.9"/>
<rect x="228.00" y="385.00" width="8.90" height="2.70" fill="#16609e" stroke="#1b2733" stroke-width="0.8"/>
<line x1="232.40" y1="385.00" x2="232.40" y2="383.50" stroke="#1b2733" stroke-width="0.9"/>
<line x1="229.90" y1="383.50" x2="234.90" y2="383.50" stroke="#1b2733" stroke-width="0.9"/>
<line x1="216.20" y1="387.70" x2="216.20" y2="390.60" stroke="#333" stroke-width="0.9"/>
<line x1="232.40" y1="387.70" x2="232.40" y2="390.60" stroke="#333" stroke-width="0.9"/>
<path d="M216.2,333.6 V328.2 H234.8 V333.6" stroke="#3a3a3a" stroke-width="1.3" fill="none"/>
<text x="212.66" y="321.27" font-size="6.40" text-anchor="start" font-weight="normal" fill="#444" textLength="29.12" lengthAdjust="spacingAndGlyphs">p=0.0499</text>
<text x="181.30" y="376.80" font-size="10.00" text-anchor="start" font-weight="normal" fill="#262626" stroke="#262626" stroke-width="0.1" textLength="101.00" lengthAdjust="spacingAndGlyphs" transform="rotate(-90 181.30 376.80)">MondoA relative expression (2</text>
<text x="177.60" y="274.60" font-size="5.20" text-anchor="start" font-weight="normal" fill="#262626" stroke="#262626" stroke-width="0.2" textLength="10.20" lengthAdjust="spacingAndGlyphs" transform="rotate(-90 177.60 274.60)">-ddct</text>
<text x="181.30" y="264.60" font-size="10.00" text-anchor="start" font-weight="normal" fill="#262626" stroke="#262626" stroke-width="0.1" transform="rotate(-90 181.30 264.60)">)</text>
<text x="217.20" y="401.70" font-size="8.40" text-anchor="end" font-weight="normal" fill="#262626" stroke="#262626" stroke-width="0.2" transform="rotate(-45 217.20 401.70)">B-cell ALL (11)</text>
<text x="237.20" y="401.70" font-size="8.40" text-anchor="end" font-weight="normal" fill="#262626" stroke="#262626" stroke-width="0.2" transform="rotate(-45 237.20 401.70)">Donors(4)</text>
<text x="255.72" y="243.15" font-size="11.50" text-anchor="start" font-weight="bold" fill="#111" textLength="7.17" lengthAdjust="spacingAndGlyphs">E</text>
<line x1="301.50" y1="260.80" x2="301.50" y2="388.30" stroke="#222" stroke-width="1.4"/>
<line x1="300.80" y1="387.60" x2="333.10" y2="387.60" stroke="#222" stroke-width="1.4"/>
<line x1="298.90" y1="260.80" x2="301.50" y2="260.80" stroke="#222" stroke-width="0.9"/>
<line x1="298.90" y1="292.50" x2="301.50" y2="292.50" stroke="#222" stroke-width="0.9"/>
<line x1="298.90" y1="324.20" x2="301.50" y2="324.20" stroke="#222" stroke-width="0.9"/>
<line x1="298.90" y1="355.90" x2="301.50" y2="355.90" stroke="#222" stroke-width="0.9"/>
<line x1="298.90" y1="387.60" x2="301.50" y2="387.60" stroke="#222" stroke-width="0.9"/>
<text x="296.48" y="263.62" font-size="8.20" text-anchor="end" font-weight="normal" fill="#262626" textLength="17.67" lengthAdjust="spacingAndGlyphs">8.00</text>
<text x="296.48" y="295.32" font-size="8.20" text-anchor="end" font-weight="normal" fill="#262626" textLength="17.67" lengthAdjust="spacingAndGlyphs">6.00</text>
<text x="296.48" y="327.02" font-size="8.20" text-anchor="end" font-weight="normal" fill="#262626" textLength="17.67" lengthAdjust="spacingAndGlyphs">4.00</text>
<text x="296.48" y="358.72" font-size="8.20" text-anchor="end" font-weight="normal" fill="#262626" textLength="17.67" lengthAdjust="spacingAndGlyphs">2.00</text>
<text x="296.48" y="390.42" font-size="8.20" text-anchor="end" font-weight="normal" fill="#262626" textLength="17.67" lengthAdjust="spacingAndGlyphs">0.00</text>
<line x1="308.60" y1="358.40" x2="308.60" y2="364.00" stroke="#333" stroke-width="0.9"/>
<line x1="308.60" y1="376.50" x2="308.60" y2="380.40" stroke="#333" stroke-width="0.9"/>
<line x1="305.85" y1="358.40" x2="311.35" y2="358.40" stroke="#333" stroke-width="0.9"/>
<line x1="305.85" y1="380.40" x2="311.35" y2="380.40" stroke="#333" stroke-width="0.9"/>
<rect x="303.95" y="364.00" width="9.30" height="12.50" fill="#16609e" stroke="#1b2733" stroke-width="0.9"/>
<line x1="303.95" y1="370.20" x2="313.25" y2="370.20" stroke="#1b2733" stroke-width="0.9"/>
<line x1="320.40" y1="276.50" x2="320.40" y2="342.60" stroke="#333" stroke-width="0.9"/>
<line x1="320.40" y1="376.50" x2="320.40" y2="381.20" stroke="#333" stroke-width="0.9"/>
<line x1="317.65" y1="276.50" x2="323.15" y2="276.50" stroke="#333" stroke-width="0.9"/>
<line x1="317.65" y1="381.20" x2="323.15" y2="381.20" stroke="#333" stroke-width="0.9"/>
<rect x="315.75" y="342.60" width="9.30" height="33.90" fill="#16609e" stroke="#1b2733" stroke-width="0.9"/>
<line x1="315.75" y1="362.10" x2="325.05" y2="362.10" stroke="#1b2733" stroke-width="0.9"/>
<line x1="308.60" y1="387.60" x2="308.60" y2="391.00" stroke="#333" stroke-width="0.9"/>
<line x1="320.40" y1="387.60" x2="320.40" y2="391.00" stroke="#333" stroke-width="0.9"/>
<path d="M305.1,271.6 V266.2 H321.8 V271.6" stroke="#3a3a3a" stroke-width="1.3" fill="none"/>
<circle cx="313.7" cy="262.6" r="0.9" fill="#2a2a2a"/>
<text x="297.25" y="256.25" font-size="8.30" text-anchor="start" font-weight="normal" fill="#333" stroke="#333" stroke-width="0.05" textLength="37.88" lengthAdjust="spacingAndGlyphs">p=0.0294</text>
<text x="264.35" y="319.32" font-size="10.00" text-anchor="middle" font-weight="normal" fill="#262626" stroke="#262626" stroke-width="0.1" textLength="98.05" lengthAdjust="spacingAndGlyphs" transform="rotate(-90.0 264.35 319.32)">MondoA expression intensity</text>
<text x="275.04" y="319.68" font-size="10.00" text-anchor="middle" font-weight="normal" fill="#262626" stroke="#262626" stroke-width="0.1" textLength="42.32" lengthAdjust="spacingAndGlyphs" transform="rotate(-90.0 275.04 319.68)">(microarray)</text>
<text x="311.20" y="401.70" font-size="8.40" text-anchor="end" font-weight="normal" fill="#262626" stroke="#262626" stroke-width="0.2" transform="rotate(-45 311.20 401.70)">Non-HR (30)</text>
<text x="329.60" y="401.70" font-size="8.40" text-anchor="end" font-weight="normal" fill="#262626" stroke="#262626" stroke-width="0.2" transform="rotate(-45 329.60 401.70)">Very-HR (31)</text>
<text x="347.73" y="243.02" font-size="11.50" text-anchor="start" font-weight="bold" fill="#111" textLength="7.90" lengthAdjust="spacingAndGlyphs">F</text>
<line x1="368.50" y1="266.00" x2="368.50" y2="388.20" stroke="#222" stroke-width="1.4"/>
<line x1="367.80" y1="387.50" x2="511.50" y2="387.50" stroke="#222" stroke-width="1.4"/>
<line x1="365.80" y1="266.20" x2="368.50" y2="266.20" stroke="#222" stroke-width="0.9"/>
<text x="363.15" y="269.02" font-size="8.20" text-anchor="end" font-weight="normal" fill="#262626">1</text>
<line x1="365.80" y1="295.60" x2="368.50" y2="295.60" stroke="#222" stroke-width="0.9"/>
<text x="364.76" y="298.42" font-size="8.20" text-anchor="end" font-weight="normal" fill="#262626" textLength="17.72" lengthAdjust="spacingAndGlyphs">0.75</text>
<line x1="365.80" y1="326.20" x2="368.50" y2="326.20" stroke="#222" stroke-width="0.9"/>
<text x="364.76" y="329.02" font-size="8.20" text-anchor="end" font-weight="normal" fill="#262626" textLength="12.66" lengthAdjust="spacingAndGlyphs">0.5</text>
<line x1="365.80" y1="357.30" x2="368.50" y2="357.30" stroke="#222" stroke-width="0.9"/>
<text x="364.76" y="360.12" font-size="8.20" text-anchor="end" font-weight="normal" fill="#262626" textLength="17.72" lengthAdjust="spacingAndGlyphs">0.25</text>
<line x1="365.80" y1="387.60" x2="368.50" y2="387.60" stroke="#222" stroke-width="0.9"/>
<text x="364.76" y="390.42" font-size="8.20" text-anchor="end" font-weight="normal" fill="#262626" textLength="5.06" lengthAdjust="spacingAndGlyphs">0</text>
<line x1="368.50" y1="387.50" x2="368.50" y2="390.00" stroke="#222" stroke-width="0.9"/>
<text x="368.60" y="400.10" font-size="8.30" text-anchor="middle" font-weight="normal" fill="#262626">0</text>
<line x1="391.60" y1="387.50" x2="391.60" y2="390.00" stroke="#222" stroke-width="0.9"/>
<text x="391.70" y="400.10" font-size="8.30" text-anchor="middle" font-weight="normal" fill="#262626">1</text>
<line x1="415.50" y1="387.50" x2="415.50" y2="390.00" stroke="#222" stroke-width="0.9"/>
<text x="415.60" y="400.10" font-size="8.30" text-anchor="middle" font-weight="normal" fill="#262626">2</text>
<line x1="439.50" y1="387.50" x2="439.50" y2="390.00" stroke="#222" stroke-width="0.9"/>
<text x="439.60" y="400.10" font-size="8.30" text-anchor="middle" font-weight="normal" fill="#262626">3</text>
<line x1="464.30" y1="387.50" x2="464.30" y2="390.00" stroke="#222" stroke-width="0.9"/>
<text x="464.40" y="400.10" font-size="8.30" text-anchor="middle" font-weight="normal" fill="#262626">4</text>
<line x1="487.30" y1="387.50" x2="487.30" y2="390.00" stroke="#222" stroke-width="0.9"/>
<text x="487.40" y="400.10" font-size="8.30" text-anchor="middle" font-weight="normal" fill="#262626">5</text>
<line x1="510.90" y1="387.50" x2="510.90" y2="390.00" stroke="#222" stroke-width="0.9"/>
<text x="511.00" y="400.10" font-size="8.30" text-anchor="middle" font-weight="normal" fill="#262626">6</text>
<text x="418.09" y="415.46" font-size="9.00" text-anchor="start" font-weight="normal" fill="#262626" stroke="#262626" stroke-width="0.05" textLength="52.84" lengthAdjust="spacingAndGlyphs">Time (years)</text>
<path d="M368.5,269.1 H391.6 V277.3 H415.5 V283.6 H439.8 V287.9 H487.7 V301.3 H511.6" stroke="#3b78ae" stroke-width="1.3" fill="none"/>
<path d="M368.5,273.1 H391.6 V279.9 H415.5 V296.2 H439.8 V315.4 H463.8 V322.1 H511.6" stroke="#d6475b" stroke-width="1.3" fill="none"/>
<line x1="463.30" y1="285.70" x2="463.30" y2="290.10" stroke="#3b78ae" stroke-width="1"/>
<line x1="511.40" y1="299.10" x2="511.40" y2="303.50" stroke="#3b78ae" stroke-width="1"/>
<line x1="487.70" y1="319.90" x2="487.70" y2="324.30" stroke="#d6475b" stroke-width="1"/>
<line x1="511.40" y1="319.90" x2="511.40" y2="324.30" stroke="#d6475b" stroke-width="1"/>
<text x="422.41" y="271.90" font-size="8.60" text-anchor="start" font-weight="normal" fill="#262626" stroke="#262626" stroke-width="0.05" textLength="42.26" lengthAdjust="spacingAndGlyphs">p=0.03415</text>
<line x1="392.40" y1="362.00" x2="410.90" y2="362.00" stroke="#3b78ae" stroke-width="1.3"/>
<line x1="392.40" y1="372.40" x2="410.90" y2="372.40" stroke="#d6475b" stroke-width="1.3"/>
<text x="417.10" y="364.37" font-size="8.00" text-anchor="start" font-weight="normal" fill="#262626" textLength="38.82" lengthAdjust="spacingAndGlyphs">Low (n=34)</text>
<text x="416.17" y="374.67" font-size="8.00" text-anchor="start" font-weight="normal" fill="#262626" textLength="40.58" lengthAdjust="spacingAndGlyphs">High (n=33)</text>
<text x="377.30" y="359.70" font-size="7.40" text-anchor="middle" font-weight="normal" fill="#666" textLength="50.60" lengthAdjust="spacingAndGlyphs" transform="rotate(-90 377.30 359.70)">Survival probability</text>
<text x="89.09" y="495.16" font-size="12.00" text-anchor="start" font-weight="bold" fill="#111" textLength="9.78" lengthAdjust="spacingAndGlyphs">G</text>
<text x="86.89" y="512.80" font-size="9.60" text-anchor="start" font-weight="normal" fill="#262626" stroke="#262626" stroke-width="0.05" textLength="38.90" lengthAdjust="spacingAndGlyphs">MondoA</text>
<text x="91.28" y="535.75" font-size="10.00" text-anchor="start" font-weight="normal" fill="#262626" stroke="#262626" stroke-width="0.05" textLength="34.84" lengthAdjust="spacingAndGlyphs">GAPDH</text>
<defs><filter id="bl" x="-20%" y="-50%" width="140%" height="200%"><feGaussianBlur stdDeviation="0.55"/></filter><filter id="bl2" x="-20%" y="-50%" width="140%" height="200%"><feGaussianBlur stdDeviation="0.9"/></filter></defs>
<rect x="135.2" y="498.6" width="257.3" height="16.7" fill="#f6f6f6"/>
<rect x="135.2" y="518.2" width="257.3" height="25.8" fill="#f8f8f8"/>
<rect x="138.35" y="500.3" width="17.00" height="13.6" fill="#e2e2e2" filter="url(#bl2)"/>
<rect x="139.35" y="510.20" width="15.00" height="2.4" fill="#000" opacity="0.22" filter="url(#bl)"/>
<rect x="138.85" y="504.60" width="16.00" height="4.00" rx="2.00" fill="#000" opacity="1.00" filter="url(#bl)"/>
<rect x="159.60" y="500.3" width="13.50" height="13.6" fill="#e2e2e2" filter="url(#bl2)"/>
<rect x="160.60" y="510.40" width="11.50" height="2.4" fill="#000" opacity="0.11" filter="url(#bl)"/>
<rect x="160.10" y="505.27" width="12.50" height="3.06" rx="1.53" fill="#000" opacity="0.35" filter="url(#bl)"/>
<rect x="177.25" y="500.3" width="14.20" height="13.6" fill="#e2e2e2" filter="url(#bl2)"/>
<rect x="178.25" y="510.20" width="12.20" height="2.4" fill="#000" opacity="0.15" filter="url(#bl)"/>
<rect x="177.75" y="504.92" width="13.20" height="3.37" rx="1.69" fill="#000" opacity="0.58" filter="url(#bl)"/>
<rect x="194.90" y="500.3" width="14.20" height="13.6" fill="#e2e2e2" filter="url(#bl2)"/>
<rect x="195.90" y="510.00" width="12.20" height="2.4" fill="#000" opacity="0.15" filter="url(#bl)"/>
<rect x="195.40" y="504.71" width="13.20" height="3.37" rx="1.69" fill="#000" opacity="0.58" filter="url(#bl)"/>
<rect x="214.10" y="500.3" width="16.80" height="13.6" fill="#e2e2e2" filter="url(#bl2)"/>
<rect x="215.10" y="509.00" width="14.80" height="2.4" fill="#000" opacity="0.16" filter="url(#bl)"/>
<rect x="214.60" y="503.67" width="15.80" height="3.47" rx="1.73" fill="#000" opacity="0.65" filter="url(#bl)"/>
<rect x="235.90" y="500.3" width="14.20" height="13.6" fill="#e2e2e2" filter="url(#bl2)"/>
<rect x="236.90" y="510.10" width="12.20" height="2.4" fill="#000" opacity="0.14" filter="url(#bl)"/>
<rect x="236.40" y="504.85" width="13.20" height="3.30" rx="1.65" fill="#000" opacity="0.53" filter="url(#bl)"/>
<rect x="255.30" y="500.3" width="13.40" height="13.6" fill="#e2e2e2" filter="url(#bl2)"/>
<rect x="256.30" y="510.40" width="11.40" height="2.4" fill="#000" opacity="0.12" filter="url(#bl)"/>
<rect x="255.80" y="505.23" width="12.40" height="3.13" rx="1.57" fill="#000" opacity="0.40" filter="url(#bl)"/>
<rect x="273.65" y="500.3" width="14.20" height="13.6" fill="#e2e2e2" filter="url(#bl2)"/>
<rect x="274.65" y="510.70" width="12.20" height="2.4" fill="#000" opacity="0.14" filter="url(#bl)"/>
<rect x="274.15" y="505.45" width="13.20" height="3.30" rx="1.65" fill="#000" opacity="0.53" filter="url(#bl)"/>
<rect x="291.85" y="500.3" width="14.00" height="13.6" fill="#e2e2e2" filter="url(#bl2)"/>
<rect x="292.85" y="510.90" width="12.00" height="2.4" fill="#000" opacity="0.14" filter="url(#bl)"/>
<rect x="292.35" y="505.65" width="13.00" height="3.30" rx="1.65" fill="#000" opacity="0.53" filter="url(#bl)"/>
<rect x="310.30" y="500.3" width="14.40" height="13.6" fill="#e2e2e2" filter="url(#bl2)"/>
<rect x="311.30" y="510.70" width="12.40" height="2.4" fill="#000" opacity="0.21" filter="url(#bl)"/>
<rect x="310.80" y="505.14" width="13.40" height="3.93" rx="1.96" fill="#000" opacity="1.00" filter="url(#bl)"/>
<rect x="330.90" y="500.3" width="14.20" height="13.6" fill="#e2e2e2" filter="url(#bl2)"/>
<rect x="331.90" y="511.10" width="12.20" height="2.4" fill="#000" opacity="0.20" filter="url(#bl)"/>
<rect x="331.40" y="505.57" width="13.20" height="3.86" rx="1.93" fill="#000" opacity="0.95" filter="url(#bl)"/>
<rect x="350.90" y="500.3" width="14.20" height="13.6" fill="#e2e2e2" filter="url(#bl2)"/>
<rect x="351.90" y="511.80" width="12.20" height="2.4" fill="#000" opacity="0.20" filter="url(#bl)"/>
<rect x="351.40" y="506.31" width="13.20" height="3.79" rx="1.90" fill="#000" opacity="0.89" filter="url(#bl)"/>
<rect x="370.35" y="500.3" width="13.30" height="13.6" fill="#e2e2e2" filter="url(#bl2)"/>
<rect x="371.35" y="511.10" width="11.30" height="2.4" fill="#000" opacity="0.08" filter="url(#bl)"/>
<rect x="370.85" y="506.13" width="12.30" height="2.74" rx="1.37" fill="#000" opacity="0.11" filter="url(#bl)"/>
<rect x="135.2" y="498.6" width="257.3" height="16.7" fill="none" stroke="#1a1a1a" stroke-width="1.3"/>
<rect x="135.2" y="518.2" width="257.3" height="25.8" fill="none" stroke="#1a1a1a" stroke-width="1.3"/>
<path d="M137,530.8 C150,529.9 165,530.9 180,530.5 S200,529.9 215,530.6 S250,530.2 270,530.5 S300,530.1 320,530.5 S350,530.4 363,530.4 C370,529.4 378,529.8 383.6,531.4 C385.6,534.6 382.5,537.8 376,537.9 C370,538 366,537.6 363,537.2 C340,537.4 320,537.2 300,536.9 S250,536.6 230,536.4 S190,536.4 170,536.1 S150,535.9 137,535.4 Z" stroke="#111" stroke-width="0" fill="#0b0b0b" filter="url(#bl)"/>
<text x="161.60" y="554.50" font-size="8.20" text-anchor="end" font-weight="normal" fill="#262626" stroke="#262626" stroke-width="0.2" transform="rotate(-45 161.60 554.50)">Nalm6</text>
<text x="178.50" y="553.00" font-size="8.20" text-anchor="end" font-weight="normal" fill="#262626" stroke="#262626" stroke-width="0.2" transform="rotate(-45 178.50 553.00)">A673</text>
<text x="197.00" y="553.00" font-size="8.20" text-anchor="end" font-weight="normal" fill="#262626" stroke="#262626" stroke-width="0.2" transform="rotate(-45 197.00 553.00)">TC-32</text>
<text x="215.80" y="553.60" font-size="8.20" text-anchor="end" font-weight="normal" fill="#262626" stroke="#262626" stroke-width="0.2" transform="rotate(-45 215.80 553.60)">TC-71</text>
<text x="237.00" y="553.60" font-size="8.20" text-anchor="end" font-weight="normal" fill="#262626" stroke="#262626" stroke-width="0.2" transform="rotate(-45 237.00 553.60)">SB-KMS-KS</text>
<text x="254.30" y="552.60" font-size="8.20" text-anchor="end" font-weight="normal" fill="#262626" stroke="#262626" stroke-width="0.2" transform="rotate(-45 254.30 552.60)">SK-N-MC</text>
<text x="271.60" y="553.60" font-size="8.20" text-anchor="end" font-weight="normal" fill="#262626" stroke="#262626" stroke-width="0.2" transform="rotate(-45 271.60 553.60)">U2OS</text>
<text x="286.80" y="554.50" font-size="8.20" text-anchor="end" font-weight="normal" fill="#262626" stroke="#262626" stroke-width="0.2" transform="rotate(-45 286.80 554.50)">SaOS</text>
<text x="310.80" y="553.40" font-size="8.20" text-anchor="end" font-weight="normal" fill="#262626" stroke="#262626" stroke-width="0.2" transform="rotate(-45 310.80 553.40)">SJSA-1</text>
<text x="323.50" y="553.40" font-size="8.20" text-anchor="end" font-weight="normal" fill="#262626" stroke="#262626" stroke-width="0.2" transform="rotate(-45 323.50 553.40)">RD</text>
<text x="345.40" y="553.40" font-size="8.20" text-anchor="end" font-weight="normal" fill="#262626" stroke="#262626" stroke-width="0.2" transform="rotate(-45 345.40 553.40)">K562</text>
<text x="366.20" y="553.40" font-size="8.20" text-anchor="end" font-weight="normal" fill="#262626" stroke="#262626" stroke-width="0.2" transform="rotate(-45 366.20 553.40)">Jurkat</text>
<text x="383.50" y="553.40" font-size="8.20" text-anchor="end" font-weight="normal" fill="#262626" stroke="#262626" stroke-width="0.2" transform="rotate(-45 383.50 553.40)">MRC5</text>
<line x1="0" y1="0.63" x2="520" y2="0.63" stroke="#141414" stroke-width="1.27"/>
<line x1="0.58" y1="0" x2="0.58" y2="591" stroke="#141414" stroke-width="1.15"/>
<line x1="519.35" y1="0" x2="519.35" y2="591" stroke="#141414" stroke-width="1.3"/>
<line x1="0" y1="590.35" x2="520" y2="590.35" stroke="#141414" stroke-width="1.3"/>
</svg>
</body></html>
